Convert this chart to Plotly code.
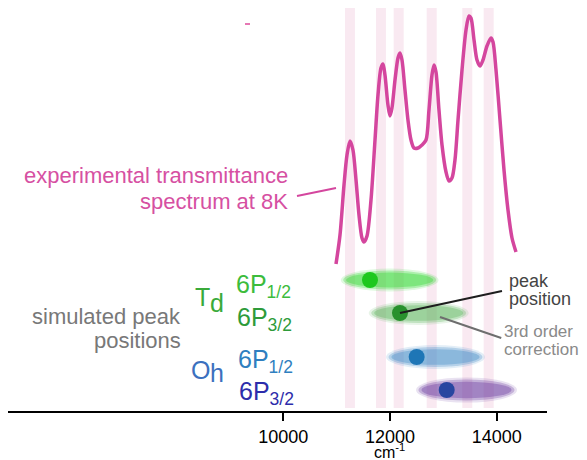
import plotly.graph_objects as go

# ---------------- data ----------------
wavenumber = [10988, 11063, 11138, 11194, 11250, 11306, 11363, 11419, 11475, 11513,
              11569, 11644, 11719, 11775, 11831, 11869, 11906, 11962, 12000, 12037,
              12094, 12150, 12187, 12225, 12281, 12337, 12394, 12450, 12525, 12600,
              12675, 12731, 12787, 12825, 12862, 12918, 12975, 13050, 13106, 13162,
              13218, 13275, 13350, 13425, 13481, 13518, 13575, 13631, 13687, 13743,
              13818, 13893, 13931, 13987, 14062, 14137, 14212, 14287, 14362]
transmittance = [147, 176, 226, 256, 270, 261, 231, 196, 173, 169,
                 175, 211, 271, 316, 343, 347, 336, 306, 295, 303,
                 331, 353, 358, 351, 321, 291, 271, 263, 263, 266,
                 271, 301, 336, 346, 339, 301, 266, 239, 230, 233,
                 251, 291, 341, 381, 395, 393, 371, 351, 345, 351,
                 365, 373, 369, 341, 291, 241, 201, 173, 159]

band_centers = [11250, 11831, 12163, 12782, 13449, 13850]
band_width = 187

sim_names = ["Td 6P1/2", "Td 6P3/2", "Oh 6P1/2", "Oh 6P3/2"]
sim_peak = [11625, 12187, 12500, 13063]
sim_lo = [11113, 11638, 11962, 12525]
sim_hi = [12875, 13438, 13743, 14344]
sim_level = [131, 98, 54, 21]
sim_halfheight = [9.5, 10, 10, 10.5]

tick_vals = [10000, 12000, 14000]
tick_text = ["10000", "12000", "14000"]

# ---------------- style ----------------
FONT = "Liberation Sans, Arial, sans-serif"
PINK = "rgb(212,70,158)"
PINK_TXT = "rgb(214,80,162)"
ell_colors = ["rgb(40,215,40)", "rgb(90,180,90)", "rgb(60,138,198)", "rgb(100,50,155)"]
dot_colors = ["rgb(30,200,30)", "rgb(40,145,45)", "rgb(30,118,182)", "rgb(40,70,160)"]

fig = go.Figure()
shapes = []

# highlight bands
for c in band_centers:
    shapes.append(dict(type="rect", xref="x", yref="y", x0=c - band_width / 2,
                       x1=c + band_width / 2, y0=3, y1=403,
                       fillcolor="rgba(240,200,220,0.4)", line=dict(width=0),
                       layer="below"))

# blurred ellipses (layered)
def rgba(rgb, a):
    return rgb.replace("rgb(", "rgba(").replace(")", ",%s)" % a)

layers = [(1.04, 1.2, 0.14), (0.99, 1.0, 0.28), (0.93, 0.78, 0.35)]
for i in range(len(sim_peak)):
    cx = (sim_lo[i] + sim_hi[i]) / 2
    hw = (sim_hi[i] - sim_lo[i]) / 2
    hh = sim_halfheight[i]
    for sx, sy, a in layers:
        shapes.append(dict(type="circle", xref="x", yref="y",
                           x0=cx - hw * sx, x1=cx + hw * sx,
                           y0=sim_level[i] - hh * sy, y1=sim_level[i] + hh * sy,
                           fillcolor=rgba(ell_colors[i], a), line=dict(width=0),
                           layer="below"))

# spectrum
fig.add_trace(go.Scatter(x=wavenumber, y=transmittance, mode="lines",
                         line=dict(color=PINK, width=3.5, shape="spline", smoothing=0.8),
                         hoverinfo="skip", showlegend=False, cliponaxis=False))

# peak dots
fig.add_trace(go.Scatter(x=sim_peak, y=sim_level, mode="markers",
                         marker=dict(size=16, color=dot_colors, line=dict(width=0)),
                         text=sim_names, showlegend=False))

# pointer lines
shapes.append(dict(type="line", xref="x", yref="y", x0=10257, y0=215, x1=10988, y1=223,
                   line=dict(color=PINK, width=2)))
shapes.append(dict(type="line", xref="x", yref="y", x0=9282, y0=387, x1=9376, y1=387,
                   line=dict(color="rgb(230,120,180)", width=2)))
shapes.append(dict(type="line", xref="x", yref="y", x0=sim_peak[1], y0=sim_level[1],
                   x1=14099, y1=120, line=dict(color="rgb(30,30,30)", width=2)))
shapes.append(dict(type="line", xref="x", yref="y", x0=12937, y0=94, x1=14085, y1=73,
                   line=dict(color="rgb(110,110,110)", width=2)))

ann = []
def A(x, y, text, size, color, xanchor="left", yanchor="middle", yref="y"):
    ann.append(dict(x=x, y=y, xref="x", yref=yref, text=text, showarrow=False,
                    xanchor=xanchor, yanchor=yanchor,
                    font=dict(family=FONT, size=size, color=color)))

A(10126, 236, "experimental transmittance", 22, PINK_TXT, "right")
A(10126, 210, "spectrum at 8K", 22, PINK_TXT, "right")
A(8126, 95, "simulated peak", 22, "rgb(120,120,120)", "right")
A(8126, 71, "positions", 22, "rgb(120,120,120)", "right")
A(8310, 114.5, "T", 25, "rgb(58,170,58)")
A(8596, 108.5, "d", 25, "rgb(58,170,58)")
A(8230, 41, "O", 25, "rgb(60,112,190)")
A(8597, 38, "h", 25, "rgb(60,112,190)")
A(9075, 125, "6P<sub>1/2</sub>", 25, "rgb(60,188,60)")
A(9093, 92.5, "6P<sub>3/2</sub>", 25, "rgb(46,155,58)")
A(9105, 50, "6P<sub>1/2</sub>", 25, "rgb(47,127,192)")
A(9136, 18, "6P<sub>3/2</sub>", 25, "rgb(45,45,171)")
A(14188, 130, "peak", 18, "rgb(68,68,68)")
A(14188, 112, "position", 18, "rgb(68,68,68)")
A(14100, 80, "3rd order", 17, "rgb(138,138,138)")
A(14100, 62, "correction", 17, "rgb(138,138,138)")
A(12000, -0.1, "cm<sup>-1</sup>", 16, "black", "center", yref="paper")

fig.update_layout(
    width=587, height=452,
    margin=dict(l=0, r=48, t=0, b=49, autoexpand=False),
    paper_bgcolor="white", plot_bgcolor="white",
    shapes=shapes, annotations=ann,
    font=dict(family=FONT),
    xaxis=dict(range=[4840, 14943], showgrid=False, zeroline=False,
               showline=True, linecolor="black", linewidth=2,
               ticks="outside", ticklen=8, tickwidth=2, tickcolor="black",
               tickvals=tick_vals, ticktext=tick_text,
               tickfont=dict(family=FONT, size=18, color="black")),
    yaxis=dict(range=[0, 403], visible=False, showgrid=False, zeroline=False),
)

fig.write_html("out.html")
